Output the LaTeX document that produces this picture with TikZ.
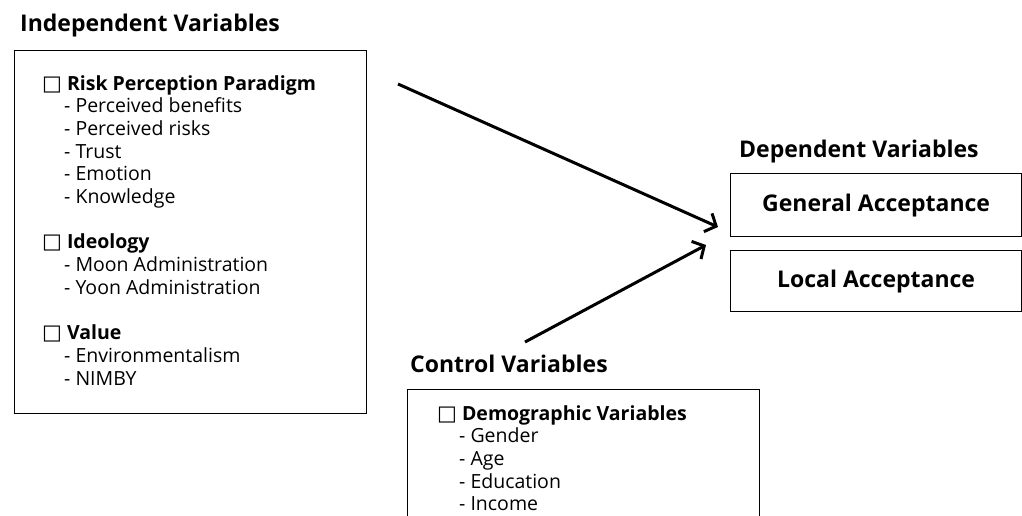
\documentclass[tikz,border=0pt]{standalone}
\usepackage{fontspec}
\setmainfont{Open Sans}
\newfontfamily\boxfont{DejaVu Sans}
\usetikzlibrary{arrows.meta,positioning}
\tikzstyle{heading}=[font=\bfseries\fontsize{23}{26}\selectfont, anchor=base west, inner sep=0pt]
\tikzstyle{frame}=[draw, line width=1.2pt, anchor=north west, inner sep=0pt]
\tikzstyle{listing}=[font=\fontsize{19.5}{22.7}\selectfont, align=left, anchor=north west, inner sep=0pt]
\tikzstyle{dvbox}=[draw, line width=1.2pt, minimum width=291pt, inner sep=0pt, font=\bfseries\fontsize{23}{26}\selectfont]
\tikzstyle{effect}=[draw, line width=3pt, -{Straight Barb[length=9pt,width=20pt,line width=3pt]}]
\newcommand{\chk}{{\boxfont\fontsize{21}{22.7}\selectfont □}\hspace{5pt}}
\newcommand{\itm}{\hspace*{22pt}- }

\begin{document}
\begin{tikzpicture}[x=1pt, y=-1pt]

   \useasboundingbox (0,0) rectangle (1022,515);
   \clip (0,0) rectangle (1022,515);

% Independent
   \node[heading] (ivtitle) at (20,31) {Independent Variables};
   \node[frame, minimum width=352pt, minimum height=363pt] (ivbox) at (14,50) {};
   \node[listing] (ivlist) at (42,75) {\chk\textbf{Risk Perception Paradigm}\\
      \itm Perceived benefits\\ \itm Perceived risks\\ \itm Trust\\ \itm Emotion\\ \itm Knowledge\\[22.7pt]
      \chk\textbf{Ideology}\\ \itm Moon Administration\\ \itm Yoon Administration\\[22.7pt]
      \chk\textbf{Value}\\ \itm Environmentalism\\ \itm NIMBY};

% Dependent
   \node[dvbox, minimum height=63pt, anchor=north west] (general) at (730,173) {General Acceptance};
   \node[dvbox, minimum height=61pt, below=13pt of general] (local) {Local Acceptance};
   \node[heading] (dvtitle) at (739,157) {Dependent Variables};

% Control
   \node[heading] (cvtitle) at (410,372) {Control Variables};
   \node[frame, minimum width=352pt, minimum height=200pt] (cvbox) at (407,389) {};
   \node[listing] (cvlist) at (437,405) {\chk\textbf{Demographic Variables}\\
      \itm Gender\\ \itm Age\\ \itm Education\\ \itm Income};

% Arrows
   \coordinate (ivtail) at (398,84);
   \coordinate (ivhead) at (718,227);
   \coordinate (cvtail) at (525,342);
   \coordinate (cvhead) at (706,245);
   \draw[effect] (ivtail) -- (ivhead);
   \draw[effect] (cvtail) -- (cvhead);

\end{tikzpicture}
\end{document}
